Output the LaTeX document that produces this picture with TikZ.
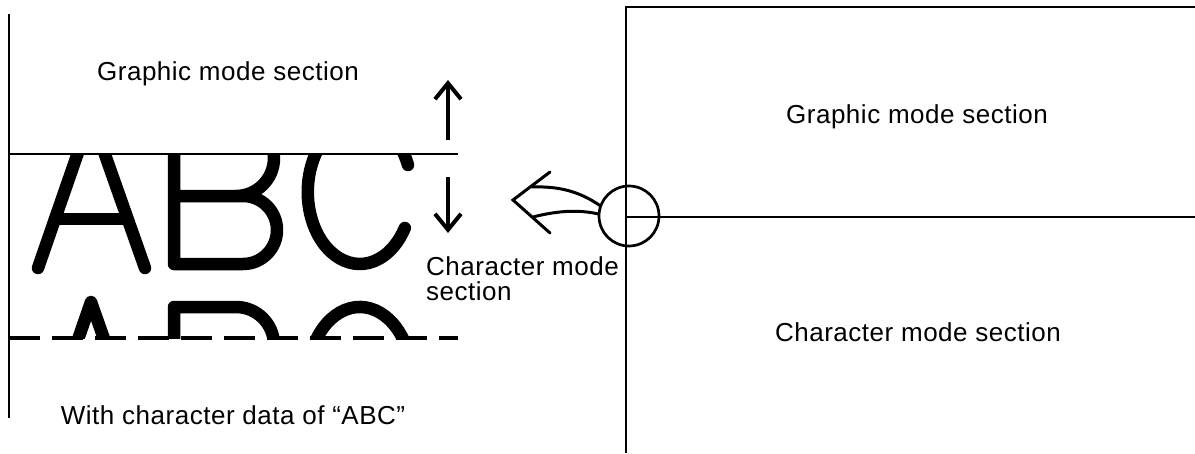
\documentclass[tikz,border=0pt]{standalone}
\usepackage{fontspec}
\setmainfont{Liberation Sans}[LetterSpace=2]
\usetikzlibrary{arrows.meta}

% stroke outlines of the large letters A, B, C (cap height about 150)
\newcommand{\bigABC}{%
  \draw[glyph] (38,268) -- (91,115) -- (145,268);
  \draw[glyph] (55,219) -- (127,219);
  \draw[glyph] (174,264) -- (174,120) -- (236,120)
        arc[start angle=-90, end angle=90, radius=38] -- (174,196)
        -- (243,196) arc[start angle=-90, end angle=90, radius=34] -- cycle;
  \draw[glyph] (408,165)
        arc[start angle=-22, end angle=-330, x radius=52, y radius=72];
}

\begin{document}
\begin{tikzpicture}[x=1pt, y=-1pt,
  frame/.style={line width=2.7pt},
  glyph/.style={line width=12.5pt, line cap=round, line join=round},
  label/.style={font=\fontsize{26}{25}\selectfont, inner sep=0pt},
  shift arrow/.style={line width=4.5pt,
    -{Straight Barb[length=16pt, width=26pt, line width=4pt]}},
  hollow/.style={line width=3pt, line cap=round, line join=miter},
]
\useasboundingbox (0,0) rectangle (1195,453);

% ---------- left panel ----------
\coordinate (lt) at (9,14);
\coordinate (lb) at (9,418);
\coordinate (sl) at (9,154);
\coordinate (sr) at (458,154);
\coordinate (dl) at (9,338);
\coordinate (dr) at (458,338);

% first character row, cut off at the section boundary
\begin{scope}
  \clip (9,154) rectangle (470,300);
  \bigABC
\end{scope}
% second character row, only its top shows above the dashed line
\begin{scope}[yshift=-187pt]
  \clip (9,93) rectangle (470,151);
  \bigABC
\end{scope}

\draw[frame] (lt) -- (lb);
\draw[frame] (sl) -- (sr);
\draw[line width=3.2pt, dash pattern=on 31pt off 12pt] (dl) -- (dr);

\node[label, anchor=base] (gl) at (228,80) {Graphic mode section};
\node[label, anchor=base] (wc) at (233,424) {With character data of “ABC”};

% direction marks either side of the boundary
\coordinate (ua) at (448,140);
\coordinate (ub) at (448,80);
\coordinate (da) at (448,177);
\coordinate (db) at (448,233);
\draw[shift arrow] (ua) -- (ub);
\draw[shift arrow] (da) -- (db);

\node[label, anchor=north west, align=left] (cm) at (426,256)
  {Character mode\\section};

% ---------- right panel ----------
\coordinate (rt) at (626,7);
\coordinate (rtr) at (1195,7);
\coordinate (rb) at (626,453);
\coordinate (ml) at (626,217);
\coordinate (mr) at (1195,217);
\draw[frame] (rtr) -- (rt) -- (rb);
\draw[frame] (ml) -- (mr);

\node[label, anchor=base] (gr) at (917,123) {Graphic mode section};
\node[label, anchor=base] (cr) at (918,341) {Character mode section};

% magnified spot on the boundary
\node[circle, draw, line width=2.7pt, inner sep=0pt, minimum size=60pt] (ring) at (629,216) {};

% hollow arrow pointing from the spot to the enlarged view
\coordinate (tip) at (513,200);
\coordinate (armU) at (550,172);
\coordinate (armL) at (550,233);
\draw[hollow] (armU) -- (tip) -- (armL);
\draw[hollow] (ring.160) .. controls (580,192) and (560,186) .. (532,187);
\draw[hollow] (ring.176) .. controls (580,210) and (560,210) .. (533,217);
\end{tikzpicture}
\end{document}
